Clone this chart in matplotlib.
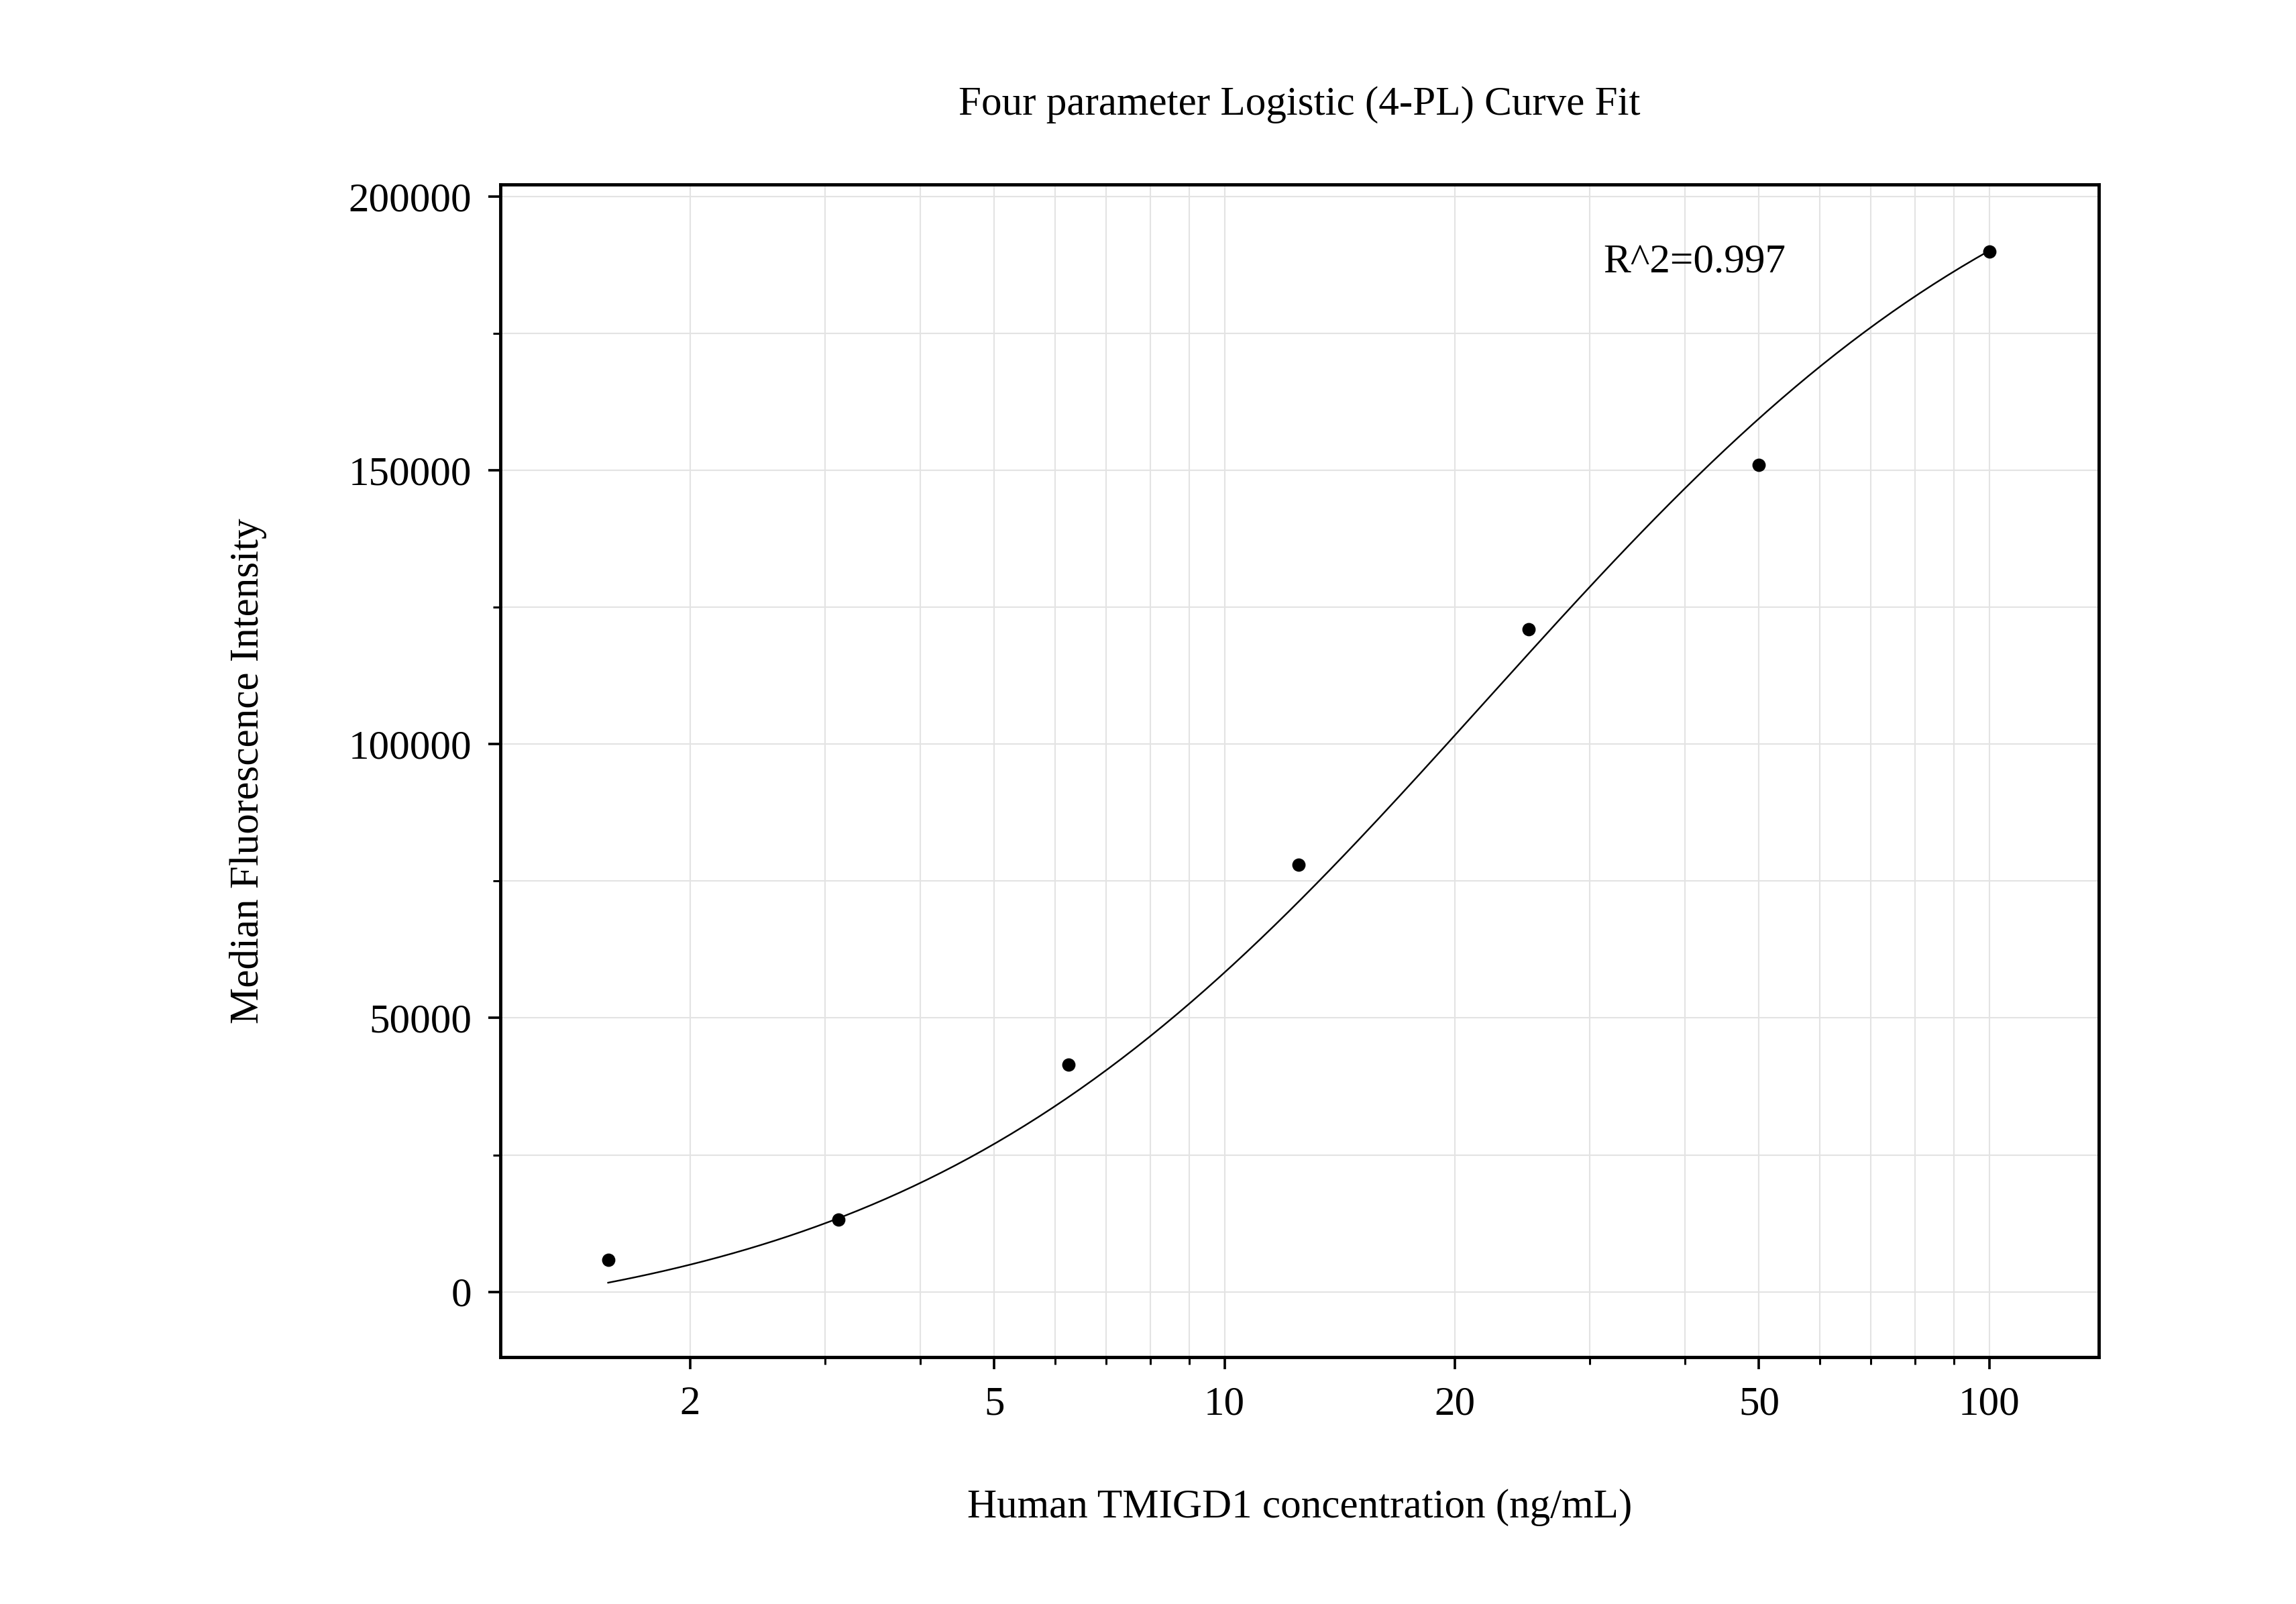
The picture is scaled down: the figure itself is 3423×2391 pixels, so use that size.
import matplotlib
matplotlib.use("Agg")
import matplotlib.pyplot as plt
import numpy as np
from matplotlib.ticker import FixedLocator, NullFormatter, MultipleLocator

plt.rcParams['font.family'] = 'Liberation Serif'

# measured standards
conc = [1.5625, 3.125, 6.25, 12.5, 25, 50, 100]
mfi = [5800, 13200, 41500, 78000, 121000, 151000, 190000]

# 4-PL fit parameters (A bottom, B slope, C midpoint, D top)
A, B, C, D = -9000, 1.15, 22.0, 225000
xs = np.logspace(np.log10(1.5625), np.log10(100), 200)
ys = D + (A - D) / (1 + (xs / C) ** B)

xticks = [2, 5, 10, 20, 50, 100]
xtick_labels = ['2', '5', '10', '20', '50', '100']

fig = plt.figure(figsize=(3423/220, 2391/220), dpi=220)
ax = fig.add_axes([0.218, 0.154, 0.696, 0.731])

ax.plot(xs, ys, 'k-', linewidth=0.8)
ax.plot(conc, mfi, 'o', color='k', markersize=5.5)

ax.set_xscale('log')
ax.set_xlim(1.13, 139)
ax.set_ylim(-11900, 202200)
ax.xaxis.set_major_locator(FixedLocator(xticks))
ax.set_xticklabels(xtick_labels)
minors = [m * 10**e for e in range(0, 3) for m in range(1, 10)]
ax.xaxis.set_minor_locator(FixedLocator([v for v in minors if v not in xticks]))
ax.xaxis.set_minor_formatter(NullFormatter())
ax.yaxis.set_major_locator(MultipleLocator(50000))
ax.yaxis.set_minor_locator(MultipleLocator(25000))

ax.grid(True, which='both', color='#e3e3e3', linewidth=0.7)
ax.set_axisbelow(True)
for s in ax.spines.values():
    s.set_linewidth(1.6)
ax.tick_params(which='major', direction='out', length=6, width=1.2, labelsize=20, pad=8)
ax.tick_params(which='minor', direction='out', length=3.5, width=1.0)

ax.text(0.69, 0.925, 'R^2=0.997', transform=ax.transAxes, fontsize=20)
ax.set_title('Four parameter Logistic (4-PL) Curve Fit', fontsize=20, pad=34)
ax.set_xlabel('Human TMIGD1 concentration (ng/mL)', fontsize=20, labelpad=32)
ax.set_ylabel('Median Fluorescence Intensity', fontsize=20, labelpad=40)

fig.savefig('out.png', dpi=220)
